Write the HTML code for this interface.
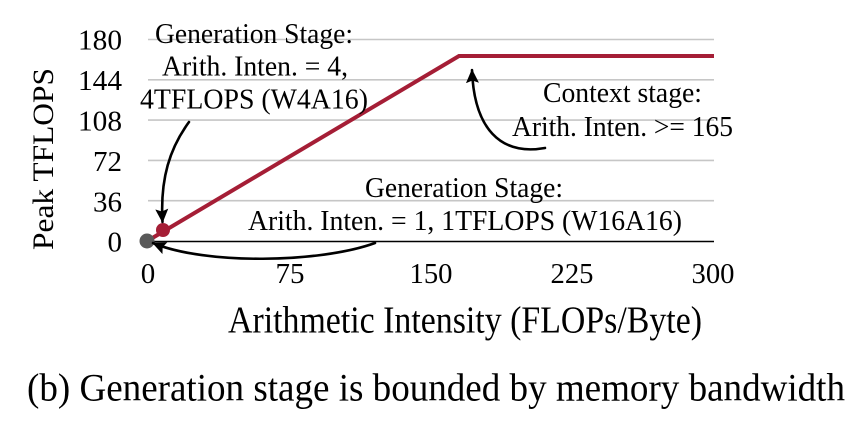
<!DOCTYPE html>
<html>
<head>
<meta charset="utf-8">
<style>
  html, body { margin: 0; padding: 0; background: #ffffff; }
  body { width: 861px; height: 427px; overflow: hidden; }
  svg { display: block; }
  svg text { font-family: "Liberation Serif", serif; fill: #000; }
</style>
</head>
<body>
<svg width="861" height="427" viewBox="0 0 861 427" xmlns="http://www.w3.org/2000/svg" font-family="Liberation Serif, serif">
  <defs>
    <marker id="ah" viewBox="0 0 14 13" refX="13" refY="6.5" markerWidth="14" markerHeight="13" markerUnits="userSpaceOnUse" orient="auto">
      <path d="M0,0 L14,6.5 L0,13 L2.5,6.5 Z" fill="#000"/>
    </marker>
  </defs>

  <!-- gridlines -->
  <g stroke="#c6c6c6" stroke-width="1.6">
    <line x1="148" y1="39.5" x2="714" y2="39.5"/>
    <line x1="148" y1="79.8" x2="714" y2="79.8"/>
    <line x1="148" y1="120.1" x2="714" y2="120.1"/>
    <line x1="148" y1="160.4" x2="714" y2="160.4"/>
    <line x1="148" y1="200.7" x2="714" y2="200.7"/>
  </g>
  <!-- x axis -->
  <line x1="148" y1="241.5" x2="714" y2="241.5" stroke="#000" stroke-width="1.6"/>

  <!-- y tick labels -->
  <g font-size="29" text-anchor="end">
    <text x="122" y="49.5" textLength="44" lengthAdjust="spacingAndGlyphs">180</text>
    <text x="122" y="90" textLength="44" lengthAdjust="spacingAndGlyphs">144</text>
    <text x="122" y="130.5" textLength="44" lengthAdjust="spacingAndGlyphs">108</text>
    <text x="122" y="171">72</text>
    <text x="122" y="211.5">36</text>
    <text x="122" y="251.5">0</text>
  </g>
  <!-- x tick labels -->
  <g font-size="29" text-anchor="middle">
    <text x="148" y="283">0</text>
    <text x="290" y="283">75</text>
    <text x="431" y="283" textLength="43" lengthAdjust="spacingAndGlyphs">150</text>
    <text x="572" y="283" textLength="43" lengthAdjust="spacingAndGlyphs">225</text>
    <text x="713" y="283" textLength="43" lengthAdjust="spacingAndGlyphs">300</text>
  </g>

  <!-- axis titles -->
  <text transform="translate(53,159) rotate(-90)" font-size="30" text-anchor="middle" textLength="182" lengthAdjust="spacingAndGlyphs">Peak TFLOPS</text>
  <text x="228" y="332.5" font-size="38" textLength="474" lengthAdjust="spacingAndGlyphs">Arithmetic Intensity (FLOPs/Byte)</text>

  <!-- caption -->
  <text x="27" y="400.5" font-size="39" textLength="818" lengthAdjust="spacingAndGlyphs">(b) Generation stage is bounded by memory bandwidth</text>

  <!-- roofline -->
  <polyline points="149,240 459,56 714,56" fill="none" stroke="#a51e36" stroke-width="4" stroke-linejoin="miter"/>
  <circle cx="163" cy="230" r="7" fill="#a51e36"/>
  <circle cx="147" cy="241" r="7.5" fill="#595959"/>

  <!-- annotation texts -->
  <g font-size="28">
    <text x="155" y="43" textLength="198" lengthAdjust="spacingAndGlyphs">Generation Stage:</text>
    <text x="162" y="75.5" textLength="186" lengthAdjust="spacingAndGlyphs">Arith. Inten. = 4,</text>
    <text x="140" y="108.5" textLength="228" lengthAdjust="spacingAndGlyphs">4TFLOPS (W4A16)</text>

    <text x="543" y="102" textLength="159" lengthAdjust="spacingAndGlyphs">Context stage:</text>
    <text x="512" y="136" textLength="221" lengthAdjust="spacingAndGlyphs">Arith. Inten. &gt;= 165</text>

    <text x="365" y="197" textLength="198" lengthAdjust="spacingAndGlyphs">Generation Stage:</text>
    <text x="248" y="230" textLength="434" lengthAdjust="spacingAndGlyphs">Arith. Inten. = 1, 1TFLOPS (W16A16)</text>
  </g>

  <!-- arrows -->
  <g fill="none" stroke="#000" stroke-width="2.6" stroke-linecap="round">
    <path d="M189,122 C170,148 160,178 162.5,222" marker-end="url(#ah)"/>
    <path d="M545,148 C500,156 474,128 472,70" marker-end="url(#ah)"/>
    <path d="M375,243 C320,263 205,265 153,243" marker-end="url(#ah)"/>
  </g>
</svg>
</body>
</html>
